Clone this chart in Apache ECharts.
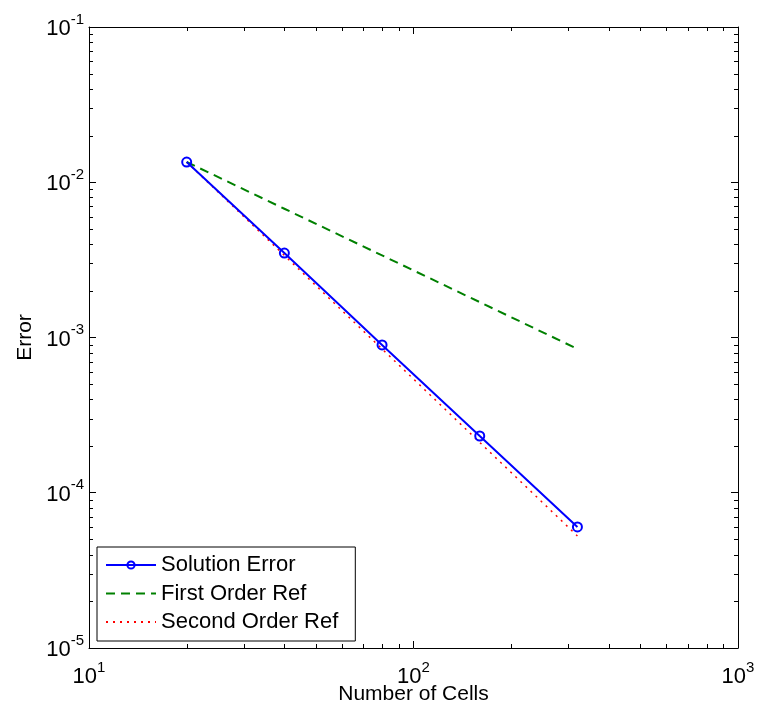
<!DOCTYPE html>
<html>
<head>
<meta charset="utf-8">
<script src="https://cdn.jsdelivr.net/npm/echarts@6/dist/echarts.min.js"></script>
<style>
html,body{margin:0;padding:0;background:#fff;}
#chart{width:757px;height:714px;}
</style>
</head>
<body>
<div id="chart"></div>
<script>
// Data
const cells = [20, 40, 80, 160, 320];
const solutionError = [0.0135, 0.0035, 0.000895, 0.000232, 0.0000602];
const firstOrderRef = [0.0135, 0.00675, 0.00338, 0.00169, 0.000844];
const secondOrderRef = [0.0135, 0.00338, 0.000844, 0.000211, 0.0000527];
const seriesNames = ['Solution Error', 'First Order Ref', 'Second Order Ref'];
const xRange = [10, 1000];
const yRange = [1e-5, 1e-1];
// minor (log) tick positions
const xMinorTicks = [20, 30, 40, 50, 60, 70, 80, 90, 200, 300, 400, 500, 600, 700, 800, 900];
const yMinorTicks = [
  2e-5, 3e-5, 4e-5, 5e-5, 6e-5, 7e-5, 8e-5, 9e-5,
  2e-4, 3e-4, 4e-4, 5e-4, 6e-4, 7e-4, 8e-4, 9e-4,
  2e-3, 3e-3, 4e-3, 5e-3, 6e-3, 7e-3, 8e-3, 9e-3,
  2e-2, 3e-2, 4e-2, 5e-2, 6e-2, 7e-2, 8e-2, 9e-2
];

const FONT = 'Liberation Sans, Arial, Helvetica, sans-serif';
const MINOR_LEN = 4;

function pairs(xs, ys) { return xs.map((x, i) => [x, ys[i]]); }

function powLabel(v) {
  const e = Math.round(Math.log10(v));
  return '{b|10}{s|' + (e < 0 ? '-' + (-e) : e) + '}';
}
const richLab = {
  b: { fontSize: 22, lineHeight: 22, fontFamily: FONT, color: '#000', verticalAlign: 'bottom' },
  s: { fontSize: 15, fontFamily: FONT, color: '#000', verticalAlign: 'top', padding: [0, 0, 13, 0] }
};

function baseAxis(extra) {
  return Object.assign({
    type: 'log',
    logBase: 10,
    axisLine: { show: true, onZero: false, lineStyle: { color: '#000', width: 1 } },
    axisTick: { show: true, inside: true, length: 7, lineStyle: { color: '#000', width: 1 } },
    minorTick: { show: false },
    splitLine: { show: false },
    minorSplitLine: { show: false }
  }, extra);
}

function tickStyle() { return { stroke: '#000', lineWidth: 1 }; }

const chart = echarts.init(document.getElementById('chart'), null, { renderer: 'canvas' });
chart.setOption({
  backgroundColor: '#fff',
  animation: false,
  textStyle: { fontFamily: FONT },
  grid: { left: 89, top: 27, right: 19, bottom: 66, containLabel: false, outerBoundsMode: 'none' },
  xAxis: [
    baseAxis({
      position: 'bottom', min: xRange[0], max: xRange[1],
      name: 'Number of Cells', nameLocation: 'middle', nameGap: 36, nameMoveOverlap: false,
      nameTextStyle: { fontSize: 21, color: '#000', fontFamily: FONT },
      axisLabel: { show: true, margin: 12, formatter: powLabel, rich: richLab }
    }),
    baseAxis({
      position: 'top', min: xRange[0], max: xRange[1],
      axisLabel: { show: false }
    })
  ],
  yAxis: [
    baseAxis({
      position: 'left', min: yRange[0], max: yRange[1],
      name: 'Error', nameLocation: 'middle', nameGap: 52,
      nameTextStyle: { fontSize: 21, color: '#000', fontFamily: FONT },
      axisLabel: { show: true, margin: 5, formatter: powLabel, rich: richLab, padding: [0, 0, 2, 0] }
    }),
    baseAxis({
      position: 'right', min: yRange[0], max: yRange[1],
      axisLabel: { show: false }
    })
  ],
  legend: {
    orient: 'vertical',
    left: 97, top: 547,
    padding: [7, 17, 8, 8],
    itemWidth: 50, itemHeight: 9, itemGap: 6.5,
    backgroundColor: '#fff',
    borderColor: '#000', borderWidth: 1,
    textStyle: { fontSize: 22, lineHeight: 22, color: '#000', fontFamily: FONT },
    data: [
      { name: seriesNames[0] },
      { name: seriesNames[1], itemStyle: { color: 'rgba(0,0,0,0)', borderWidth: 0, opacity: 0 } },
      { name: seriesNames[2], itemStyle: { color: 'rgba(0,0,0,0)', borderWidth: 0, opacity: 0 } }
    ]
  },
  series: [
    {
      type: 'custom', silent: true, z: 1, xAxisIndex: 0, yAxisIndex: 0, clip: false,
      data: xMinorTicks.map(v => [v, yRange[0]]),
      renderItem: function (params, api) {
        const p = api.coord([api.value(0), api.value(1)]);
        const cs = params.coordSys;
        const x = Math.round(p[0]) + 0.5;
        return { type: 'group', children: [
          { type: 'line', shape: { x1: x, y1: cs.y + cs.height, x2: x, y2: cs.y + cs.height - MINOR_LEN }, style: tickStyle() },
          { type: 'line', shape: { x1: x, y1: cs.y, x2: x, y2: cs.y + MINOR_LEN }, style: tickStyle() }
        ] };
      }
    },
    {
      type: 'custom', silent: true, z: 1, xAxisIndex: 0, yAxisIndex: 0, clip: false,
      data: yMinorTicks.map(v => [xRange[0], v]),
      renderItem: function (params, api) {
        const p = api.coord([api.value(0), api.value(1)]);
        const cs = params.coordSys;
        const y = Math.round(p[1]) + 0.5;
        return { type: 'group', children: [
          { type: 'line', shape: { x1: cs.x, y1: y, x2: cs.x + MINOR_LEN, y2: y }, style: tickStyle() },
          { type: 'line', shape: { x1: cs.x + cs.width, y1: y, x2: cs.x + cs.width - MINOR_LEN, y2: y }, style: tickStyle() }
        ] };
      }
    },
    {
      name: seriesNames[2], type: 'line', xAxisIndex: 0, yAxisIndex: 0,
      data: pairs(cells, secondOrderRef), showSymbol: false, symbol: 'none', z: 2,
      lineStyle: { color: '#ff0000', width: 1.5, type: [2, 5] },
      itemStyle: { color: '#ff0000' }
    },
    {
      name: seriesNames[1], type: 'line', xAxisIndex: 0, yAxisIndex: 0,
      data: pairs(cells, firstOrderRef), showSymbol: false, symbol: 'none', z: 3,
      lineStyle: { color: '#008000', width: 2, type: [9, 6] },
      itemStyle: { color: '#008000' }
    },
    {
      name: seriesNames[0], type: 'line', xAxisIndex: 0, yAxisIndex: 0,
      data: pairs(cells, solutionError), symbol: 'circle', symbolSize: 9, z: 4,
      lineStyle: { color: '#0000ff', width: 2 },
      itemStyle: { color: 'rgba(0,0,0,0)', borderColor: '#0000ff', borderWidth: 2 }
    }
  ]
});
</script>
</body>
</html>
